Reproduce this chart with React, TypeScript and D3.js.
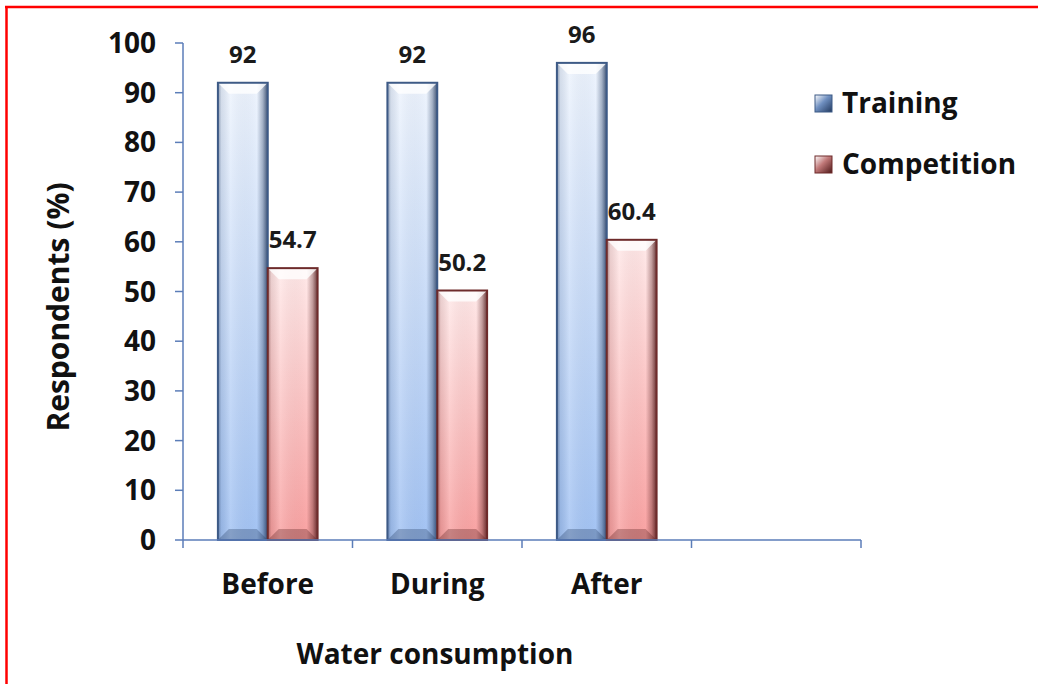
import React from "react";
import * as d3 from "d3";

const categories = ["Before", "During", "After", ""];
const seriesNames = ["Training", "Competition"];
const training = [92, 92, 96];
const competition = [54.7, 50.2, 60.4];
const yTicks = [0, 10, 20, 30, 40, 50, 60, 70, 80, 90, 100];
const xTitle = "Water consumption";
const yTitle = "Respondents (%)";

const W = 1038;
const H = 684;
const FONT = "'Open Sans', 'Noto Sans', sans-serif";

const palette = {
  Training: { top: "#eef4fd", bottom: "#a3c3f3", stroke: "#3d5a86", dark: "#22395e", sw: "#6f8fc0" },
  Competition: { top: "#ffe9e9", bottom: "#f9a2a2", stroke: "#6e2b2b", dark: "#4e1818", sw: "#c07878" },
};

export default function App() {
  const x0 = d3.scaleBand<string>().domain(categories).range([183, 861]).padding(0);
  const x1 = d3
    .scaleBand<string>()
    .domain(seriesNames)
    .range([0, x0.bandwidth()])
    .paddingInner(0)
    .paddingOuter(0.7);
  const y = d3.scaleLinear().domain([0, 100]).range([540, 43]);

  const data = seriesNames.map((s, si) => ({
    name: s,
    values: si === 0 ? training : competition,
  }));

  const axisColor = "#5b7db8";
  const bevel = 11;

  return (
    <svg width={W} height={H} style={{ position: "absolute", left: 0, top: 0 }}>
      <defs>
        {seriesNames.map((s) => {
          const c = palette[s as keyof typeof palette];
          return (
            <React.Fragment key={s}>
              <linearGradient id={`v-${s}`} x1="0" y1="0" x2="0" y2="1">
                <stop offset="0%" stopColor={c.top} />
                <stop offset="100%" stopColor={c.bottom} />
              </linearGradient>
              <linearGradient id={`h-${s}`} x1="0" y1="0" x2="1" y2="0">
                <stop offset="0%" stopColor={c.dark} stopOpacity={0.5} />
                <stop offset="7%" stopColor={c.dark} stopOpacity={0.12} />
                <stop offset="25%" stopColor="#ffffff" stopOpacity={0.15} />
                <stop offset="78%" stopColor={c.dark} stopOpacity={0.0} />
                <stop offset="90%" stopColor={c.dark} stopOpacity={0.35} />
                <stop offset="100%" stopColor={c.dark} stopOpacity={0.85} />
              </linearGradient>
              <linearGradient id={`s-${s}`} x1="0" y1="0" x2="1" y2="1">
                <stop offset="0%" stopColor="#ffffff" />
                <stop offset="45%" stopColor={c.sw} />
                <stop offset="100%" stopColor={c.dark} />
              </linearGradient>
            </React.Fragment>
          );
        })}
      </defs>
      <rect x={0} y={0} width={W} height={H} fill="#ffffff" />
      {/* red frame */}
      <line x1={5} y1={7} x2={W} y2={7} stroke="#ff0000" strokeWidth={2.5} />
      <line x1={6.5} y1={6} x2={6.5} y2={H} stroke="#ff0000" strokeWidth={2.5} />

      {/* bars */}
      {data.map((s) =>
        s.values.map((v, i) => {
          const bx = (x0(categories[i]) as number) + (x1(s.name) as number);
          const bw = x1.bandwidth();
          const by = y(v);
          const bh = y(0) - by;
          const c = palette[s.name as keyof typeof palette];
          return (
            <g key={s.name + i}>
              <rect x={bx} y={by} width={bw} height={bh} fill={`url(#v-${s.name})`} />
              <rect x={bx} y={by} width={bw} height={bh} fill={`url(#h-${s.name})`} />
              <polygon
                points={`${bx},${by} ${bx + bw},${by} ${bx + bw - bevel},${by + bevel} ${bx + bevel},${by + bevel}`}
                fill="#ffffff"
                opacity={0.8}
              />
              <polygon
                points={`${bx},${y(0)} ${bx + bw},${y(0)} ${bx + bw - bevel},${y(0) - bevel} ${bx + bevel},${y(0) - bevel}`}
                fill={c.dark}
                opacity={0.3}
              />
              <rect
                x={bx}
                y={by}
                width={bw}
                height={bh}
                fill="none"
                stroke={c.stroke}
                strokeWidth={2}
              />
              <text
                x={bx + bw / 2}
                y={by - 20}
                textAnchor="middle"
                fontFamily={FONT}
                fontWeight={700}
                fontSize={24}
                fill="#1a1a1a"
              >
                {v}
              </text>
            </g>
          );
        })
      )}

      {/* y axis */}
      <line x1={183} y1={y(0)} x2={183} y2={y(100)} stroke={axisColor} strokeWidth={1.5} />
      {yTicks.map((t) => (
        <g key={t}>
          <line x1={175} y1={y(t)} x2={183} y2={y(t)} stroke={axisColor} strokeWidth={1.5} />
          <text
            x={156}
            y={y(t)}
            dy="0.36em"
            textAnchor="end"
            fontFamily={FONT}
            fontWeight={700}
            fontSize={28}
            fill="#111"
          >
            {t}
          </text>
        </g>
      ))}

      {/* x axis */}
      <line x1={183} y1={y(0)} x2={861} y2={y(0)} stroke={axisColor} strokeWidth={1.5} />
      {categories.map((c) => (
        <line
          key={"t" + c}
          x1={x0(c) as number}
          y1={y(0)}
          x2={x0(c) as number}
          y2={y(0) + 8}
          stroke={axisColor}
          strokeWidth={1.5}
        />
      ))}
      <line x1={861} y1={y(0)} x2={861} y2={y(0) + 8} stroke={axisColor} strokeWidth={1.5} />
      {categories.map((c) => (
        <text
          key={"l" + c}
          x={(x0(c) as number) + x0.bandwidth() / 2}
          y={594}
          textAnchor="middle"
          fontFamily={FONT}
          fontWeight={700}
          fontSize={28}
          fill="#111"
        >
          {c}
        </text>
      ))}

      <text
        x={435}
        y={664}
        textAnchor="middle"
        fontFamily={FONT}
        fontWeight={700}
        fontSize={28}
        fill="#111"
      >
        {xTitle}
      </text>
      <text
        transform={`translate(69,307) rotate(-90)`}
        textAnchor="middle"
        fontFamily={FONT}
        fontWeight={700}
        fontSize={30}
        fill="#111"
      >
        {yTitle}
      </text>

      {/* legend */}
      {seriesNames.map((s, i) => {
        const ly = 103 + i * 61;
        const c = palette[s as keyof typeof palette];
        return (
          <g key={"lg" + s}>
            <rect x={815} y={ly - 8} width={17} height={17} fill={`url(#s-${s})`} />
            <rect x={815} y={ly - 8} width={17} height={17} fill="none" stroke={c.stroke} strokeWidth={1} />
            <text
              x={842}
              y={ly}
              dy="0.36em"
              fontFamily={FONT}
              fontWeight={700}
              fontSize={28}
              fill="#111"
            >
              {s}
            </text>
          </g>
        );
      })}
    </svg>
  );
}
